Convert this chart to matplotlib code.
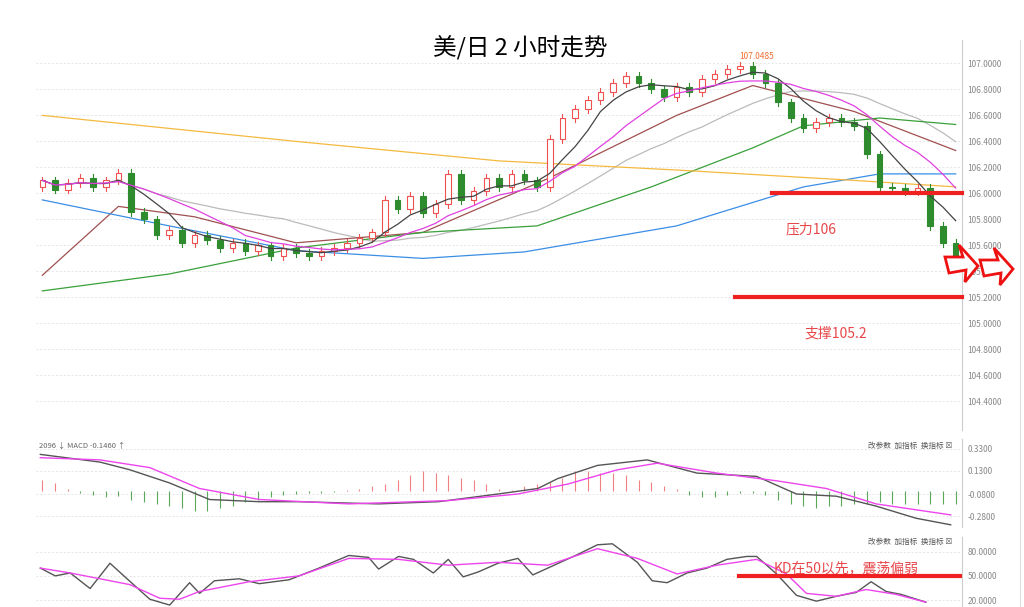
import matplotlib
matplotlib.use("Agg")
import matplotlib.pyplot as plt
import numpy as np
import pandas as pd
from matplotlib.patches import Rectangle, Polygon

plt.rcParams['font.family'] = ['Noto Sans CJK SC', 'DejaVu Sans']

closes = [106.10,106.03,106.08,106.12,106.05,106.10,106.16,105.86,105.80,105.68,
          105.72,105.62,105.68,105.64,105.58,105.62,105.56,105.60,105.52,105.58,
          105.54,105.52,105.56,105.58,105.62,105.66,105.70,105.95,105.88,105.98,
          105.85,105.92,106.15,105.95,106.02,106.12,106.05,106.15,106.10,106.05,
          106.42,106.58,106.65,106.72,106.78,106.85,106.90,106.85,106.80,106.74,
          106.82,106.78,106.88,106.92,106.96,106.98,106.92,106.85,106.70,106.58,
          106.50,106.55,106.58,106.55,106.52,106.30,106.05,106.04,106.02,106.04,
          105.75,105.62,105.52]
first_open = 106.05
wick = 0.03

# long moving averages (sparse readings)
ma_orange_i = [0, 20, 36, 50, 64, 72]
ma_orange_v = [106.60, 106.40, 106.25, 106.18, 106.10, 106.05]
ma_blue_i = [0, 10, 20, 30, 38, 50, 60, 66, 72]
ma_blue_v = [105.95, 105.75, 105.56, 105.50, 105.55, 105.75, 106.05, 106.15, 106.15]
ma_green_i = [0, 10, 20, 30, 39, 48, 56, 60, 66, 72]
ma_green_v = [105.25, 105.38, 105.58, 105.70, 105.75, 106.05, 106.35, 106.52, 106.58, 106.53]
ma_brown_i = [0, 6, 12, 20, 30, 40, 50, 56, 64, 72]
ma_brown_v = [105.37, 105.90, 105.82, 105.62, 105.70, 106.12, 106.60, 106.83, 106.63, 106.33]

hist_base = -0.05
hist = [0.10,0.07,0.02,-0.02,-0.04,-0.06,-0.05,-0.08,-0.10,-0.12,-0.14,-0.16,-0.18,-0.18,-0.16,
        -0.14,-0.10,-0.08,-0.06,-0.04,-0.03,-0.02,-0.02,-0.01,0.01,0.02,0.04,0.06,0.10,0.14,
        0.18,0.16,0.14,0.12,0.10,0.06,0.02,0.01,0.04,0.06,0.08,0.12,0.18,0.18,0.16,0.16,0.14,
        0.10,0.08,0.04,0.02,-0.04,-0.06,-0.06,-0.04,-0.02,-0.02,-0.04,-0.08,-0.12,-0.14,-0.16,
        -0.14,-0.14,-0.12,-0.12,-0.10,-0.12,-0.12,-0.12,-0.12,-0.12,-0.12]
dif_x = [40,100,130,170,210,260,300,380,440,500,540,560,600,650,700,760,800,840,880,920,955]
dif_v = [0.28,0.21,0.14,0.02,-0.13,-0.15,-0.15,-0.17,-0.15,-0.08,-0.03,0.06,0.18,0.23,0.11,0.08,-0.08,-0.10,-0.19,-0.30,-0.36]
dea_x = [40,100,150,200,260,350,450,520,570,620,660,720,780,830,880,955]
dea_v = [0.25,0.23,0.16,-0.03,-0.13,-0.17,-0.14,-0.08,0.01,0.14,0.20,0.11,0.04,-0.03,-0.17,-0.27]

k_x = [40,55,70,90,110,125,150,170,190,200,215,240,260,290,320,350,370,380,400,415,435,450,465,480,
       500,520,535,550,580,600,615,640,655,670,690,710,730,750,760,780,800,820,840,860,875,890,905,930]
k_v = [59.6,50,53.6,34.4,65.6,48.8,21.2,14,41.6,28.4,44,46.4,40.4,45.2,59.6,75.2,72.8,58.4,74,70.4,
       53.6,70.4,48.8,54.8,65.6,71.6,51.2,59.6,76.4,88.4,89.6,66.8,44,41.6,53.6,59.6,70.4,74,74,52.4,
       26,18.8,24.8,29.6,42.8,30.8,27.2,17.6]
d_x = [40,70,100,130,160,180,200,250,300,350,400,450,500,550,600,640,680,720,760,790,810,840,870,900,930]
d_v = [59.6,53.6,46.4,39.2,22.4,21.2,30.8,42.8,50,71.6,70.4,63.2,66.8,63.2,83.6,71.6,52.4,63.2,70.4,52.4,
       28.4,24.8,33.2,27.2,17.6]

W, H = 1024, 607
fig = plt.figure(figsize=(W/100, H/100), dpi=100)
L, R = 36/W, 962/W
def px2x(x):  # pixel x -> candle index
    return (x - 42) / 12.75
ax = fig.add_axes([L, 1-430/H, R-L, 390/H])
am = fig.add_axes([L, 1-527/H, R-L, 88/H])
ak = fig.add_axes([L, 0, R-L, 70/H])
grey = '#888888'
for a in (ax, am, ak):
    a.set_xlim(-0.5, 72.5)
    for s in ('left', 'top', 'bottom'):
        a.spines[s].set_visible(False)
    a.spines['right'].set_color('#cccccc')
    a.yaxis.tick_right()
    a.tick_params(axis='y', length=0, labelsize=6, colors=grey, pad=4)
    a.set_xticks([])
    a.grid(axis='y', color='#e6e6e6', linestyle=(0, (2, 2)), lw=0.7)

# candles
c = np.array(closes)
o = np.concatenate([[first_open], c[:-1]])
for i in range(len(c)):
    up = c[i] >= o[i]
    col = '#f05050' if up else '#2e8b2e'
    lo, hi = min(o[i], c[i]), max(o[i], c[i])
    ax.plot([i, i], [lo - wick, hi + wick], color=col, lw=0.8, zorder=3)
    ax.add_patch(Rectangle((i - 0.22, lo), 0.44, max(hi - lo, 0.006),
                           facecolor='white' if up else col, edgecolor=col, lw=0.8, zorder=4))
s = pd.Series(c)
ax.plot(s.rolling(5, min_periods=1).mean(), color='#444444', lw=0.9, zorder=5)
ax.plot(s.rolling(10, min_periods=1).mean(), color='#e040e0', lw=0.9, zorder=5)
ax.plot(s.rolling(20, min_periods=1).mean(), color='#bbbbbb', lw=0.9, zorder=2)
ax.plot(ma_brown_i, ma_brown_v, color='#a05050', lw=0.9, zorder=2)
ax.plot(ma_green_i, ma_green_v, color='#3aa03a', lw=0.9, zorder=2)
ax.plot(ma_blue_i, ma_blue_v, color='#3a8ee6', lw=0.9, zorder=2)
ax.plot(ma_orange_i, ma_orange_v, color='#f5b940', lw=0.9, zorder=2)
ax.set_ylim(104.18, 107.18)
yt = np.arange(104.4, 107.01, 0.2)
ax.set_yticks(yt)
ax.set_yticklabels([f'{v:.4f}' for v in yt])
ax.plot([px2x(775), 72.5], [106.0, 106.0], color='#ee2020', lw=3, zorder=6, clip_on=False)
ax.plot([px2x(738), 72.5], [105.2, 105.2], color='#ee2020', lw=3, zorder=6, clip_on=False)
ax.text(px2x(815), 105.72, '压力106', color='#e8474a', fontsize=10, ha='center', va='center')
ax.text(px2x(840), 104.92, '支撑105.2', color='#e8474a', fontsize=10, ha='center', va='center')
ax.text(px2x(760), 107.02, '107.0485', color='#f07030', fontsize=6, ha='center', va='bottom')
fig.text(520/W, 1-48/H, '美/日 2 小时走势', fontsize=17, ha='center', va='center')

# MACD
cols = ['#f08080' if h > 0 else '#5aa85a' for h in hist]
am.vlines(range(len(hist)), hist_base, np.array(hist) + hist_base, colors=cols, lw=0.8)
am.plot([px2x(x) for x in dif_x], dif_v, color='#555555', lw=1)
am.plot([px2x(x) for x in dea_x], dea_v, color='#ee44ee', lw=1)
am.set_ylim(-0.38, 0.42)
am.set_yticks([0.33, 0.13, -0.08, -0.28])
am.set_yticklabels(['0.3300', '0.1300', '-0.0800', '-0.2800'])
am.text(0.003, 0.97, '2096 ↓ MACD -0.1460 ↑', transform=am.transAxes, fontsize=5.5, color='#666666', va='top')
am.text(0.99, 0.97, '改参数  加指标  换指标 ☒', transform=am.transAxes, fontsize=5.5, color='#555555', va='top', ha='right')

# KD
ak.plot([px2x(x) for x in k_x], k_v, color='#555555', lw=1)
ak.plot([px2x(x) for x in d_x], d_v, color='#ee44ee', lw=1)
ak.set_ylim(11.6, 98)
ak.set_yticks([20, 50, 80])
ak.set_yticklabels(['20.0000', '50.0000', '80.0000'])
ak.plot([px2x(742), 72.5], [50, 50], color='#ee2020', lw=3)
ak.text(px2x(850), 60, 'KD在50以先，震荡偏弱', color='#e8474a', fontsize=10, ha='center', va='center')
ak.text(0.99, 0.99, '改参数  加指标  换指标 ☒', transform=ak.transAxes, fontsize=5.5, color='#555555', va='top', ha='right')

# arrows (figure pixel coords)
def arrow(x0, yc):
    pts = [(x0, yc - 5), (x0 + 18, yc - 5), (x0 + 14, yc - 17), (x0 + 33, yc + 4),
           (x0 + 20, yc + 20), (x0 + 21, yc + 8), (x0 + 4, yc + 11)]
    return Polygon([(x / W, 1 - y / H) for x, y in pts], closed=True, transform=fig.transFigure,
                   facecolor='white', edgecolor='#ee1111', lw=2, zorder=10)
fig.patches.append(arrow(945, 262))
fig.patches.append(arrow(980, 265))
fig.add_artist(plt.Line2D([1020/W, 1020/W], [1 - 40/H, 0], color='#dddddd', lw=0.8))
fig.savefig('out.png', dpi=100)
